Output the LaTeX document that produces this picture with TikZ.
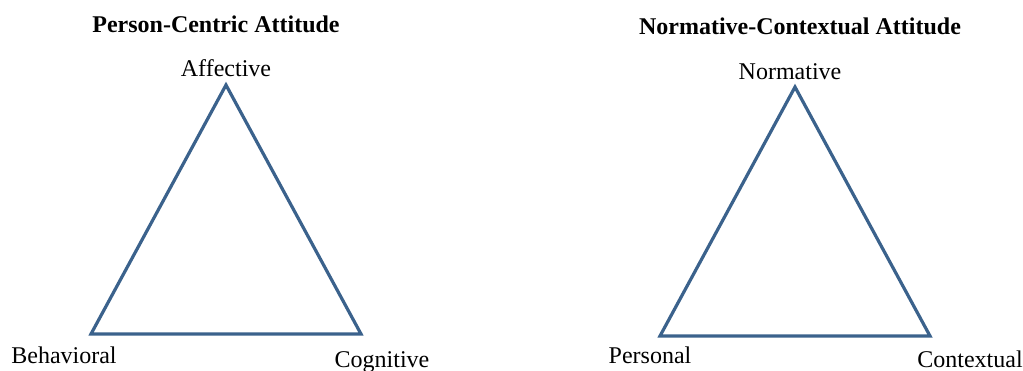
\documentclass[tikz,border=0pt]{standalone}
\usepackage{fontspec}
\setmainfont{Liberation Serif}
\definecolor{triblue}{RGB}{59,98,140}
\begin{document}
\begin{tikzpicture}
[
  x=1pt, y=-1pt,
  side/.style = {draw=triblue, line width=3.2pt, line join=miter},
  corner/.style = {anchor=base, inner sep=0pt, font=\fontsize{24}{28}\selectfont},
  heading/.style = {anchor=base, inner sep=0pt, font=\fontsize{24}{28}\selectfont\bfseries},
]
\useasboundingbox (0,0) rectangle (1023,370);

%left triangle
\coordinate (Aff) at (226,85); %top
\coordinate (Beh) at (91,334); %bottom left
\coordinate (Cog) at (361,334); %bottom right
%right triangle
\coordinate (Nor) at (795,87); %top
\coordinate (Per) at (660,336); %bottom left
\coordinate (Con) at (930,336); %bottom right

\draw[side] (Aff) -- (Beh) -- (Cog) -- cycle;
\draw[side] (Nor) -- (Per) -- (Con) -- cycle;

%titles
\node[heading] (personcentric) at (216,32) {Person-Centric Attitude};
\node[heading] (normcontext) at (800,34) {Normative-Contextual Attitude};

%corner labels
\node[corner] (affective) at (226,76) {Affective};
\node[corner] (behavioral) at (64,363) {Behavioral};
\node[corner] (cognitive) at (382,367) {Cognitive};
\node[corner] (normative) at (790,79) {Normative};
\node[corner] (personal) at (650,363) {Personal};
\node[corner] (contextual) at (970,367) {Contextual};
\end{tikzpicture}
\end{document}
